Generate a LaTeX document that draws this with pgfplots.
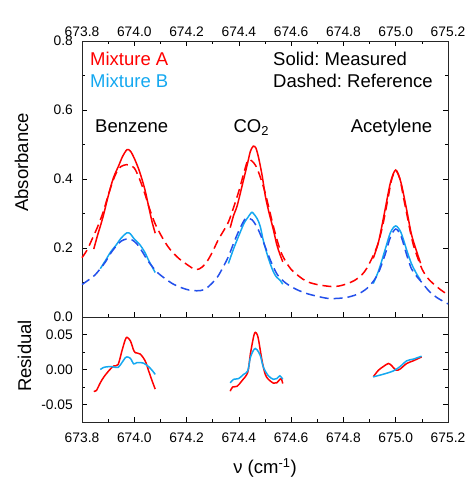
\documentclass[border=0pt]{standalone}
\usepackage{pgfplots}
\pgfplotsset{compat=1.18}
\usepackage{fontspec}
\setmainfont{Liberation Sans}
\frenchspacing
\definecolor{cRed}{RGB}{255,0,0}
\definecolor{cLBlue}{RGB}{20,168,240}
\definecolor{cDBlue}{RGB}{35,80,235}
\newcommand{\tickfont}{\fontsize{13.8}{16}\selectfont}
\newcommand{\labfont}{\fontsize{18.5}{22}\selectfont}
\pgfplotsset{
  common/.style={
    width=366pt, scale only axis,
    xmin=673.8, xmax=675.2,
    xtick={673.8,674.0,674.2,674.4,674.6,674.8,675.0,675.2},
    xticklabels={673.8,674.0,674.2,674.4,674.6,674.8,675.0,675.2},
    minor xtick={673.9,674.1,674.3,674.5,674.7,674.9,675.1},
    tick align=inside, major tick length=5pt, minor tick length=3pt,
    tick style={black, line width=0.6pt},
    axis line style={line width=0.7pt, black!85},
    ticklabel style={font=\tickfont},
    yticklabel style={anchor=east, inner sep=0pt, xshift=-9pt},
    scaled y ticks=false, scaled x ticks=false,
    clip=false,
  },
  solidA/.style={cRed, line width=1.5pt, smooth, tension=0.5},
  solidB/.style={cLBlue, line width=1.5pt, smooth, tension=0.5},
  dashA/.style={cRed, line width=1.5pt, smooth, tension=0.5, dash pattern=on 9pt off 5pt},
  dashB/.style={cDBlue, line width=1.5pt, smooth, tension=0.5, dash pattern=on 9pt off 5pt},
}
\begin{document}
\begin{tikzpicture}
\begin{axis}[common,
  at={(0pt,0pt)}, anchor=south west, height=276pt,
  ymin=0, ymax=0.8,
  ytick={0,0.2,0.4,0.6,0.8}, yticklabels={0.0,0.2,0.4,0.6,0.8},
  minor ytick={0.1,0.3,0.5,0.7},
  xticklabel pos=upper, xtick pos=both,
  xticklabel style={anchor=base, inner sep=0pt, yshift=5pt},
  ylabel={Absorbance},
  ylabel style={at={(rel axis cs:-0.1475,0.56)}, anchor=base, font=\labfont},
]
% Mixture A measured
\addplot[solidA] coordinates {
(673.845,0.197) (673.86,0.238) (673.88,0.289) (673.90,0.350) (673.92,0.403)
(673.94,0.438) (673.955,0.465) (673.972,0.485) (673.985,0.481) (674.00,0.460)
(674.02,0.422) (674.04,0.371) (674.055,0.320) (674.068,0.276) (674.08,0.243)};
\addplot[solidA] coordinates {
(674.367,0.259) (674.38,0.295) (674.393,0.321) (674.412,0.379) (674.434,0.448)
(674.444,0.480) (674.455,0.495) (674.465,0.490) (674.476,0.460) (674.489,0.410)
(674.501,0.352) (674.513,0.310) (674.532,0.253) (674.545,0.210) (674.557,0.182) (674.568,0.160)};
\addplot[solidA] coordinates {
(674.914,0.170) (674.935,0.220) (674.959,0.310) (674.98,0.390) (675.00,0.426)
(675.02,0.390) (675.042,0.310) (675.06,0.240) (675.08,0.190) (675.095,0.156)};
% Mixture B measured
\addplot[solidB] coordinates {
(673.87,0.140) (673.89,0.164) (673.91,0.189) (673.93,0.208) (673.95,0.229)
(673.972,0.244) (673.985,0.241) (674.00,0.226) (674.02,0.211) (674.04,0.188)
(674.055,0.164) (674.07,0.143) (674.08,0.129)};
\addplot[solidB] coordinates {
(674.36,0.155) (674.38,0.198) (674.40,0.236) (674.42,0.272) (674.434,0.288)
(674.445,0.300) (674.452,0.303) (674.47,0.285) (674.482,0.262) (674.494,0.220)
(674.513,0.170) (674.532,0.131) (674.545,0.115) (674.557,0.107) (674.568,0.095)};
\addplot[solidB] coordinates {
(674.914,0.097) (674.935,0.135) (674.959,0.194) (674.98,0.245) (675.00,0.264)
(675.02,0.245) (675.042,0.194) (675.06,0.155) (675.08,0.125) (675.095,0.107)};
% Reference A
\addplot[dashA] coordinates {
(673.80,0.172) (673.82,0.195) (673.84,0.228) (673.86,0.262) (673.88,0.302)
(673.90,0.352) (673.92,0.398) (673.94,0.430) (673.96,0.440) (673.98,0.441)
(674.00,0.432) (674.02,0.400) (674.04,0.358) (674.06,0.310) (674.08,0.270)
(674.10,0.240) (674.12,0.214) (674.14,0.193) (674.17,0.170) (674.20,0.153)
(674.235,0.137) (674.26,0.145) (674.28,0.163) (674.30,0.190) (674.32,0.222)
(674.34,0.248) (674.36,0.275) (674.38,0.318) (674.40,0.365) (674.42,0.420)
(674.435,0.455) (674.45,0.452) (674.465,0.438) (674.48,0.410) (674.50,0.362)
(674.52,0.300) (674.54,0.240) (674.56,0.190) (674.58,0.160) (674.60,0.138)
(674.63,0.118) (674.66,0.103) (674.70,0.094) (674.76,0.088) (674.80,0.093)
(674.84,0.105) (674.87,0.122) (674.89,0.142) (674.914,0.178) (674.934,0.216)
(674.953,0.275) (674.972,0.350) (674.985,0.400) (675.00,0.424) (675.016,0.400)
(675.03,0.345) (675.042,0.300) (675.055,0.250) (675.067,0.210) (675.08,0.180)
(675.10,0.140) (675.12,0.115) (675.14,0.099) (675.17,0.080) (675.20,0.064)};
% Reference B
\addplot[dashB] coordinates {
(673.80,0.094) (673.83,0.110) (673.85,0.122) (673.87,0.140) (673.89,0.160)
(673.91,0.185) (673.93,0.205) (673.95,0.220) (673.97,0.226) (673.99,0.224)
(674.01,0.212) (674.03,0.190) (674.05,0.165) (674.07,0.145) (674.09,0.128)
(674.12,0.110) (674.15,0.095) (674.18,0.085) (674.21,0.078) (674.24,0.076)
(674.27,0.080) (674.30,0.100) (674.32,0.118) (674.34,0.145) (674.36,0.175)
(674.38,0.214) (674.40,0.250) (674.42,0.280) (674.43,0.287) (674.45,0.282)
(674.47,0.260) (674.49,0.225) (674.51,0.185) (674.53,0.148) (674.55,0.120)
(674.58,0.098) (674.62,0.080) (674.66,0.068) (674.70,0.060) (674.74,0.054)
(674.78,0.054) (674.82,0.058) (674.86,0.068) (674.89,0.083) (674.914,0.103)
(674.935,0.130) (674.959,0.180) (674.98,0.232) (675.00,0.255) (675.02,0.235)
(675.042,0.180) (675.06,0.140) (675.08,0.118) (675.10,0.100) (675.13,0.073)
(675.16,0.055) (675.20,0.038)};
\node[anchor=base west, text=cRed, font=\labfont, inner sep=0pt] at (rel axis cs:0.0219,0.913) {Mixture A};
\node[anchor=base west, text=cLBlue, font=\labfont, inner sep=0pt] at (rel axis cs:0.0219,0.832) {Mixture B};
\node[anchor=base west, font=\labfont, inner sep=0pt] at (rel axis cs:0.5219,0.913) {Solid: Measured};
\node[anchor=base west, font=\labfont, inner sep=0pt] at (rel axis cs:0.5219,0.832) {Dashed: Reference};
\node[anchor=base west, font=\labfont, inner sep=0pt] at (rel axis cs:0.0355,0.667) {Benzene};
\node[anchor=base west, font=\labfont, inner sep=0pt] at (rel axis cs:0.4134,0.667) {CO\textsubscript{2}};
\node[anchor=base west, font=\labfont, inner sep=0pt] at (rel axis cs:0.734,0.667) {Acetylene};
\end{axis}
\begin{axis}[common,
  at={(0pt,0pt)}, anchor=north west, height=105pt,
  ymin=-0.075, ymax=0.075,
  ytick={-0.05,0,0.05}, yticklabels={-0.05,0.00,0.05},
  minor ytick={-0.025,0.025},
  xticklabel pos=lower, xtick pos=lower, ytick pos=both,
  xticklabel style={anchor=base, inner sep=0pt, yshift=-20pt},
  ylabel={Residual},
  ylabel style={at={(rel axis cs:-0.139,0.629)}, anchor=base, font=\labfont},
  xlabel={ν (cm\textsuperscript{-1})},
  xlabel style={at={(rel axis cs:0.5,-0.49)}, anchor=base, font=\labfont},
]
\addplot[solidA] coordinates {
(673.845,-0.031) (673.855,-0.030) (673.870,-0.019) (673.883,-0.011) (673.902,-0.002)
(673.921,0.005) (673.938,0.007) (673.953,0.027) (673.965,0.042) (673.972,0.046)
(673.985,0.041) (673.998,0.027) (674.004,0.024) (674.023,0.022) (674.042,0.012)
(674.055,-0.002) (674.068,-0.016) (674.080,-0.028)};
\addplot[solidA] coordinates {
(674.367,-0.031) (674.376,-0.025) (674.393,-0.024) (674.412,-0.016) (674.434,-0.004)
(674.444,0.022) (674.457,0.048) (674.463,0.053) (674.470,0.050) (674.476,0.041)
(674.489,0.012) (674.501,-0.007) (674.513,-0.014) (674.532,-0.0195) (674.545,-0.019)
(674.557,-0.014) (674.562,-0.013) (674.568,-0.020)};
\addplot[solidA] coordinates {
(674.914,-0.0105) (674.934,-0.001) (674.953,0.0043) (674.972,0.0086) (674.985,0.0053)
(675.001,-0.001) (675.016,0.0005) (675.042,0.0086) (675.067,0.0124) (675.099,0.018)};
\addplot[solidB] coordinates {
(673.870,0.000) (673.883,0.003) (673.900,0.004) (673.915,0.004) (673.938,0.003)
(673.953,0.010) (673.966,0.017) (673.972,0.018) (673.985,0.016) (673.998,0.008)
(674.010,0.010) (674.023,0.010) (674.036,0.009) (674.055,0.004) (674.070,-0.002) (674.080,-0.007)};
\addplot[solidB] coordinates {
(674.367,-0.019) (674.380,-0.014) (674.399,-0.013) (674.418,-0.007) (674.434,-0.002)
(674.444,0.017) (674.455,0.027) (674.463,0.030) (674.470,0.028) (674.482,0.020)
(674.494,0.003) (674.513,-0.009) (674.532,-0.014) (674.545,-0.013) (674.557,-0.009) (674.568,-0.014)};
\addplot[solidB] coordinates {
(674.914,-0.0105) (674.953,-0.0067) (674.991,-0.002) (675.016,0.004) (675.042,0.0124)
(675.067,0.0148) (675.099,0.019)};
\end{axis}
\pgfresetboundingbox
\path (-82pt,-161pt) rectangle (389pt,317pt);
\end{tikzpicture}
\end{document}
